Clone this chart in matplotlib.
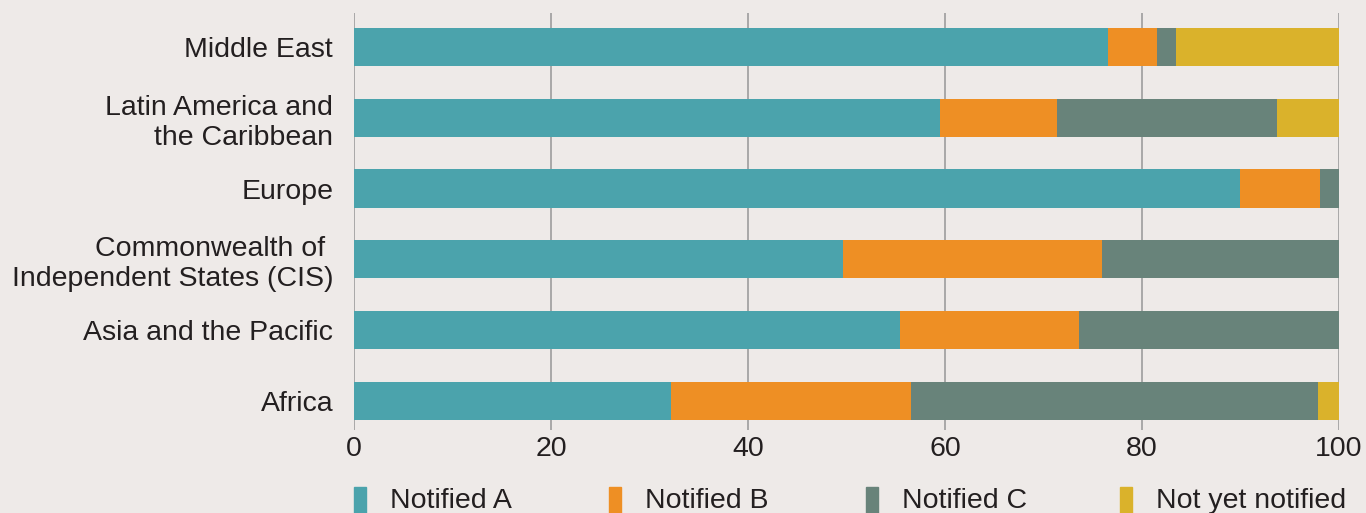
import matplotlib
matplotlib.use("Agg")
import matplotlib.pyplot as plt
from matplotlib.patches import Rectangle

regions = ["Middle East", "Latin America and\nthe Caribbean", "Europe",
           "Commonwealth of \nIndependent States (CIS)", "Asia and the Pacific", "Africa"]
series_names = ["Notified A", "Notified B", "Notified C", "Not yet notified"]
notified_a = [76.5, 59.5, 89.9, 49.6, 55.4, 32.2]
notified_b = [5.0, 11.9, 8.2, 26.3, 18.2, 24.3]
notified_c = [2.0, 22.3, 1.9, 24.1, 26.4, 41.4]
not_yet = [16.5, 6.3, 0.0, 0.0, 0.0, 2.1]
xticks = [0, 20, 40, 60, 80, 100]

colors = ["#4BA3AC", "#EE8F24", "#68837A", "#DAB22B"]
bg = "#EEEAE8"
txt = "#231F20"

plt.rcParams['font.family'] = ['Liberation Sans', 'DejaVu Sans']
FS = 20.5

fig = plt.figure(figsize=(13.66, 5.13), dpi=100, facecolor=bg)
W, H = 1366, 513
ax = fig.add_axes([354 / W, 1 - 430 / H, (1339 - 354) / W, (430 - 13) / H], facecolor=bg)

series = [notified_a, notified_b, notified_c, not_yet]
y = list(range(len(regions)))
left = [0.0] * len(regions)
for vals, col, name in zip(series, colors, series_names):
    ax.barh(y, vals, left=left, height=0.54, color=col, label=name, zorder=3)
    left = [l + v for l, v in zip(left, vals)]

ax.set_xlim(0, 100)
ax.set_ylim(5.41, -0.48)
ax.set_xticks(xticks)
ax.set_xticklabels([str(t) for t in xticks], fontsize=FS, color=txt)
ax.set_yticks(y)
ax.set_yticklabels(regions, fontsize=FS, color=txt, linespacing=1.2)
ax.tick_params(axis='both', length=0)
ax.tick_params(axis='y', pad=15)
ax.tick_params(axis='x', pad=4)
for s in ax.spines.values():
    s.set_visible(False)
ax.xaxis.grid(True, color="#A3A3A3", linewidth=1.3, zorder=1)
ax.set_axisbelow(True)

# legend (manual placement)
leg_x = [354, 609, 866, 1120]
for xpx, col, name in zip(leg_x, colors, series_names):
    fig.patches.append(Rectangle((xpx / W, 1 - 513 / H), 12 / W, 26 / H,
                                 transform=fig.transFigure, color=col, figure=fig))
    fig.text((xpx + 36) / W, 1 - 501 / H, name, fontsize=FS, color=txt,
             va='center', ha='left')

fig.savefig("out.png", dpi=100, facecolor=bg)
